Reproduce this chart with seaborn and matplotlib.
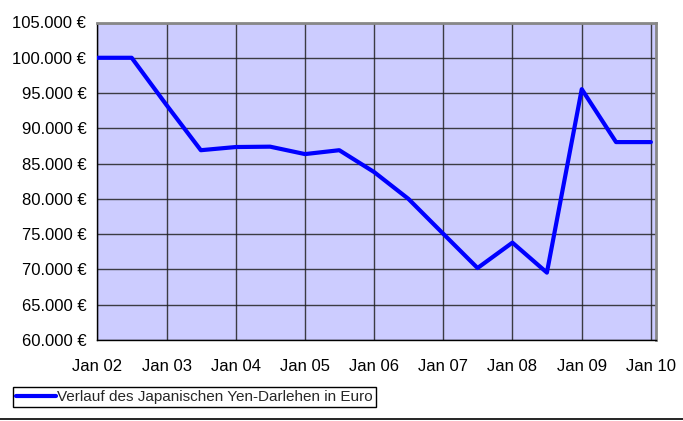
import pandas as pd
import matplotlib.pyplot as plt
import matplotlib.dates as mdates
from matplotlib.ticker import FuncFormatter, MultipleLocator
from matplotlib.lines import Line2D
import seaborn as sns

# Chart data
dates = ['2002-01-01', '2002-07-01', '2003-01-01', '2003-07-01', '2004-01-01', '2004-07-01',
         '2005-01-01', '2005-07-01', '2006-01-01', '2006-07-01', '2007-01-01', '2007-07-01',
         '2008-01-01', '2008-07-01', '2009-01-01', '2009-07-01', '2010-01-01']
values = [100000, 100000, 93300, 86900, 87350, 87400,
          86350, 86900, 83800, 80000, 75050, 70200,
          73800, 69550, 95550, 88050, 88050]
series_label = 'Verlauf des Japanischen Yen-Darlehen in Euro'

df = pd.DataFrame({'Datum': pd.to_datetime(dates), 'Wert': values})

sns.set_style('white')
plt.rcParams['font.family'] = ['Liberation Sans', 'DejaVu Sans']

fig = plt.figure(figsize=(6.83, 4.21), dpi=100)
ax = fig.add_axes([97.4 / 683, 1 - 340 / 421, (656 - 97.4) / 683, (340 - 22.5) / 421])
ax.set_facecolor('#CCCCFF')

sns.lineplot(data=df, x='Datum', y='Wert', ax=ax, color='#0000FF', linewidth=3.0,
             label=series_label, legend=False, zorder=3)

ax.set_ylim(60000, 105000)
ax.set_xlim(pd.Timestamp('2002-01-01'), pd.Timestamp('2010-01-28'))
ax.yaxis.set_major_locator(MultipleLocator(5000))
ax.yaxis.set_major_formatter(FuncFormatter(lambda v, p: f'{v:,.0f}'.replace(',', '.') + ' €'))
ax.xaxis.set_major_locator(mdates.YearLocator())
ax.xaxis.set_major_formatter(mdates.DateFormatter('%b %y'))

ax.grid(True, color='#222222', linewidth=1.0, alpha=0.85)
ax.set_axisbelow(True)
ax.set_xlabel('')
ax.set_ylabel('')
ax.tick_params(axis='both', labelsize=12, colors='black', direction='out', length=4, width=1)
ax.tick_params(axis='y', pad=4)
ax.tick_params(axis='x', pad=10)

for side in ['left', 'bottom']:
    ax.spines[side].set_color('black')
    ax.spines[side].set_linewidth(1.0)
for side in ['top', 'right']:
    ax.spines[side].set_color('#888888')
    ax.spines[side].set_linewidth(2.0)

# Legend below the plot, boxed
handle = Line2D([], [], color='#0000FF', linewidth=3.0)
fig.legend([handle], [series_label], loc='lower left',
           bbox_to_anchor=(13 / 683, 1 - 407 / 421), frameon=True, fancybox=False,
           edgecolor='black', framealpha=1, fontsize=11, handlelength=2.6,
           handletextpad=0.1, borderpad=0.2, borderaxespad=0)

# Separator line at the bottom
fig.add_artist(Line2D([0, 1], [1 - 419 / 421, 1 - 419 / 421], color='black', linewidth=1.2,
                      transform=fig.transFigure))

fig.savefig('out.png', dpi=100)
